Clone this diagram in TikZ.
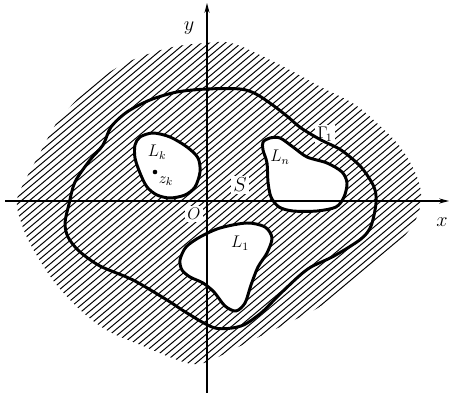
\documentclass[tikz,border=0pt]{standalone}
\usetikzlibrary{arrows.meta}
\begin{document}
\begin{tikzpicture}[x=0.25mm,y=-0.25mm,
  contour/.style={line width=2.1pt, line join=round},
  hatch/.style={line width=0.7pt},
  axis/.style={line width=0.9pt, -{Stealth[length=7pt,width=3.6pt]}},
  lbl/.style={inner sep=0.5pt, font=\fontsize{12}{14}\selectfont},
  wlbl/.style={lbl, fill=white, inner sep=1.5pt}]
\useasboundingbox (0,0) rectangle (451,396);
% hatched region
\begin{scope}
\clip plot[smooth cycle, tension=0.6] coordinates {
 (17,200) (27,177) (40,153) (58,121) (85,92) (113,70) (140,57) (173,47)
 (205,43) (231,43) (260,55) (288,69) (321,87) (354,104) (378,124)
 (401,148) (417,177) (421,200) (414,223) (395,246) (364,274) (321,306)
 (290,322) (261,336) (228,352) (207,362) (187,363) (143,346) (100,326)
 (60,289) (33,249) (21,222)};
\foreach \c in {-432,-424,...,470} \draw[hatch] (\c,400) -- ++(480,-403);
\end{scope}
% labels with white background
\node[wlbl, font=\fontsize{14}{16}\selectfont] (S) at (240,185) {$S$};
\node[wlbl, font=\fontsize{13}{15}\selectfont] (O) at (194,214) {$O$};
\node[wlbl] (G) at (325,134) {$\Gamma_{\!1}$};
% holes
\draw[contour, fill=white] plot[smooth cycle] coordinates {
 (140,137) (153,133) (170,137) (187,147) (198,158) (200,172) (195,187)
 (185,195) (170,198) (157,195) (147,187) (140,173) (135,158) (135,145)};
\draw[contour, fill=white] plot[smooth cycle] coordinates {
 (263,142) (270,138) (280,138) (293,147) (307,157) (327,163) (342,172)
 (347,183) (344,197) (336,207) (317,211) (293,211) (279,207) (271,197)
 (268,182) (267,163) (263,150)};
\draw[contour, fill=white] plot[smooth cycle] coordinates {
 (180,260) (186,247) (200,237) (220,228) (247,223) (265,227) (272,238)
 (267,253) (258,267) (251,285) (245,303) (236,311) (225,306) (214,292)
 (203,283) (190,277) (182,270)};
% outer contour Gamma
\draw[contour] plot[smooth cycle] coordinates {
 (207,89) (240,89) (256,94) (274,106) (288,117) (301,128) (321,140)
 (341,150) (361,167) (374,187) (376,203) (371,226) (361,239) (334,256)
 (311,267) (298,277) (278,296) (261,313) (241,326) (215,328) (187,313)
 (167,300) (133,280) (100,266) (79,251) (68,237) (65,223) (69,204)
 (75,182) (90,160) (103,145) (111,127) (127,112) (150,100) (177,92)};
% axes
\coordinate (xl) at (5,201);
\coordinate (xr) at (449,201);
\coordinate (yb) at (207,393);
\coordinate (yt) at (207,3);
\draw[axis] (xl) -- (xr);
\draw[axis] (yb) -- (yt);
% labels
\node[lbl, font=\fontsize{15}{17}\selectfont] (ylab) at (189,28) {$y$};
\node[lbl, font=\fontsize{15}{17}\selectfont] (xlab) at (442,222) {$x$};
\node[lbl] (Lk) at (157,152) {$L_k$};
\fill (155,172) circle (2.3) coordinate (zk);
\node[lbl, font=\fontsize{11}{13}\selectfont] (zklab) at (166,181) {$z_k$};
\node[lbl] (Ln) at (280,157) {$L_n$};
\node[lbl] (L1) at (240,243) {$L_1$};
\end{tikzpicture}
\end{document}
